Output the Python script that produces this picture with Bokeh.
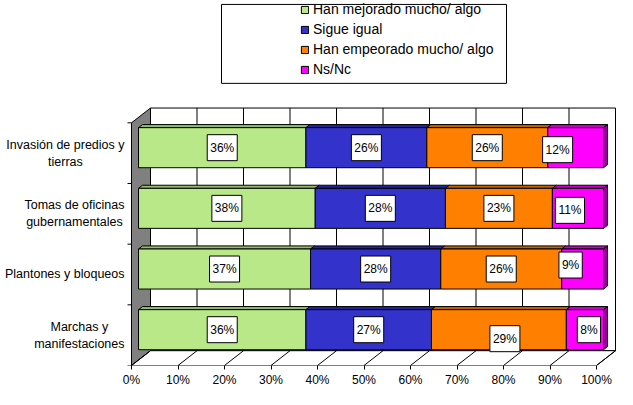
import numpy as np
from bokeh.plotting import figure
from bokeh.models import (Range1d, FixedTicker, PrintfTickFormatter, Legend,
                          LegendItem, ColumnDataSource)
from bokeh.core.properties import value
from bokeh.embed import file_html
from bokeh.resources import INLINE

# ---------------- data (bottom row first) ----------------
categories = ["Marchas y\nmanifestaciones", "Plantones y bloqueos",
              "Tomas de oficinas\ngubernamentales", "Invasión de predios y\ntierras"]
series_names = ["Han mejorado mucho/ algo", "Sigue igual",
                "Han empeorado mucho/ algo", "Ns/Nc"]
mejorado = [36, 37, 38, 36]
sigue_igual = [27, 28, 28, 26]
empeorado = [29, 26, 23, 26]
ns_nc = [8, 9, 11, 12]
x_ticks = [0, 10, 20, 30, 40, 50, 60, 70, 80, 90, 100]

series_values = [mejorado, sigue_igual, empeorado, ns_nc]

# ---------------- style ----------------
front_colors = ["#B9E888", "#3333CC", "#FF8000", "#FF00FF"]
top_colors = ["#93BB6C", "#242499", "#C26100", "#C800C8"]
side_colors = ["#6F8C52", "#1A1A73", "#8F4800", "#990099"]
FONT = "Liberation Sans"

# label nudges in screen pixels (category index, series index) -> (dx, dy)
label_nudges = {(3, 3): (-18, 2), (2, 3): (-8, 2), (1, 3): (-12, -4),
                (0, 2): (6, 9), (0, 3): (4, 0)}

FIG_W, FIG_H = 617, 389
AXIS_X_PX, BORDER_B = 131, 19          # front-plane 0 % position, bottom border
PX_PER_PCT = 4.65
PX_PER_CAT = 61.5
DEPTH_PX = (19.0, 15.0)
BAR_FRONT, BAR_BACK = 0.37, 0.58
BAR_H = 0.66
LABEL_GAP_PX = 7
TICK_PX = 4
FLOOR_Y = FIG_H - BORDER_B
LEGEND_BOX_PX = (221, 506, 4, 84)   # left, right, top, bottom (figure pixels)
LEGEND_GLYPH_LEFT = 300

def px_x(px):
    return (px - AXIS_X_PX) / PX_PER_PCT

def px_y(py):
    return (FLOOR_Y - py) / PX_PER_CAT

DX = DEPTH_PX[0] / PX_PER_PCT
DY = DEPTH_PX[1] / PX_PER_CAT
bx, by = BAR_FRONT * DX, BAR_FRONT * DY
dbx, dby = (BAR_BACK - BAR_FRONT) * DX, (BAR_BACK - BAR_FRONT) * DY

n = len(categories)
xmax = x_ticks[-1]

p = figure(width=FIG_W, height=FIG_H, x_range=Range1d(px_x(0), px_x(FIG_W)),
           y_range=Range1d(0, px_y(0)), output_backend="svg",
           toolbar_location=None, min_border_left=0, min_border_right=0,
           min_border_top=0, min_border_bottom=BORDER_B)
p.xgrid.visible = False
p.ygrid.visible = False
p.yaxis.visible = False
p.outline_line_color = None
p.background_fill_color = "white"

# legend box
lb = LEGEND_BOX_PX
p.quad(left=[px_x(lb[0])], right=[px_x(lb[1])], top=[px_y(lb[2])],
       bottom=[px_y(lb[3])], fill_color="white", line_color="black", line_width=1)

# back wall
p.quad(left=[DX], right=[xmax + DX], bottom=[DY], top=[n + DY],
       fill_color="white", line_color="black", line_width=1)
grid_x = [t + DX for t in x_ticks[1:-1]]
p.segment(x0=grid_x, y0=[DY] * len(grid_x), x1=grid_x, y1=[n + DY] * len(grid_x),
          line_color="black", line_width=1)
# left wall
p.patch(x=[0, 0, DX, DX], y=[0, n, n + DY, DY], fill_color="#808080",
        line_color="black", line_width=1)
# floor
p.patch(x=[0, xmax, xmax + DX, DX], y=[0, 0, DY, DY], fill_color="white",
        line_color="black", line_width=1)
p.segment(x0=x_ticks, y0=[0] * len(x_ticks), x1=[t + DX for t in x_ticks],
          y1=[DY] * len(x_ticks), line_color="black", line_width=1)

# category boundary ticks on the front edge of the left wall
bnd = list(range(n + 1))
p.segment(x0=[-TICK_PX / PX_PER_PCT] * len(bnd), y0=bnd, x1=[0] * len(bnd), y1=bnd,
          line_color="black", line_width=1)

# bars
centers = np.arange(n) + 0.5
cum = np.zeros(n)
legend_items = []
label_x, label_y, label_t, label_dx, label_dy = [], [], [], [], []
for j, vals in enumerate(series_values):
    vals = np.array(vals, dtype=float)
    left = cum.copy()
    right = cum + vals
    bot = centers - BAR_H / 2 + by
    top = centers + BAR_H / 2 + by
    txs = [[l + bx, r + bx, r + bx + dbx, l + bx + dbx] for l, r in zip(left, right)]
    tys = [[t, t, t + dby, t + dby] for t in top]
    p.patches(xs=txs, ys=tys, fill_color=top_colors[j], line_color="black", line_width=1)
    r = p.quad(left=left + bx, right=right + bx, bottom=bot, top=top,
               fill_color=front_colors[j], line_color="black", line_width=1)
    legend_items.append(LegendItem(label=series_names[j], renderers=[r]))
    if j == len(series_values) - 1:
        sxs = [[e + bx, e + bx, e + bx + dbx, e + bx + dbx] for e in right]
        sys_ = [[b, t, t + dby, b + dby] for b, t in zip(bot, top)]
        p.patches(xs=sxs, ys=sys_, fill_color=side_colors[j], line_color="black",
                  line_width=1)
    for i in range(n):
        label_x.append((left[i] + right[i]) / 2 + bx)
        label_y.append(centers[i] + by)
        label_t.append(f"{int(vals[i])}%")
        ndx, ndy = label_nudges.get((i, j), (0, 0))
        label_dx.append(ndx)
        label_dy.append(ndy)
    cum = right

src = ColumnDataSource(dict(x=label_x, y=label_y, t=label_t, dx=label_dx, dy=label_dy))
p.text(x="x", y="y", text="t", x_offset="dx", y_offset="dy", source=src,
       text_font=value(FONT), text_font_size="12px", text_color="black",
       text_align="center", text_baseline="middle",
       background_fill_color="white", border_line_color="black",
       border_line_width=1, padding=(3, 6))

# category labels: block right-aligned at the axis, lines centred
cat_src = ColumnDataSource(dict(x=[-LABEL_GAP_PX / PX_PER_PCT] * n, y=list(centers),
                                t=categories))
p.text(x="x", y="y", text="t", source=cat_src, anchor=value("center_right"),
       text_align="center", text_baseline="middle", text_font=value(FONT),
       text_font_size="12.5px", text_color="black")

# bottom axis
xa = p.xaxis[0]
xa.ticker = FixedTicker(ticks=x_ticks)
xa.formatter = PrintfTickFormatter(format="%d%%")
xa.axis_line_color = None
xa.major_tick_out = 4
xa.major_tick_in = 0
xa.minor_tick_line_color = None
xa.major_label_standoff = 3
xa.major_label_text_font = FONT
xa.major_label_text_font_size = "12px"
xa.major_label_text_color = "black"

legend = Legend(items=legend_items,
                location=(LEGEND_GLYPH_LEFT, FLOOR_Y - LEGEND_BOX_PX[3]),
                orientation="vertical", padding=0, margin=0, spacing=0,
                glyph_width=9, glyph_height=9, label_standoff=4, label_height=20,
                border_line_color=None, background_fill_alpha=0,
                label_text_font=FONT, label_text_font_size="14px",
                label_text_color="black")
p.add_layout(legend)

open("out.html", "w").write(file_html(p, INLINE))
